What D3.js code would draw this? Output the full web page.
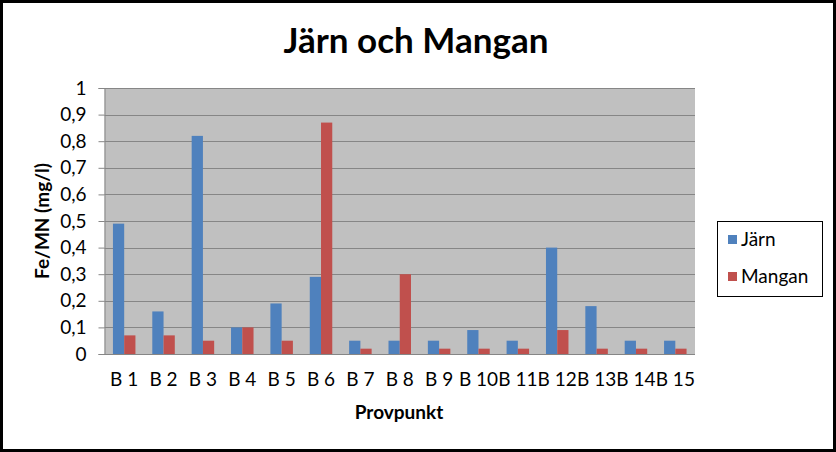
<!DOCTYPE html>
<html><head><meta charset="utf-8">
<script src="https://cdn.jsdelivr.net/npm/d3@7"></script>
<style>body{margin:0;background:#fff}svg{display:block}text{font-family:Lato,"Open Sans",sans-serif}</style>
</head><body><svg id="c" width="836" height="452"></svg>
<script>
const categories = ["B 1","B 2","B 3","B 4","B 5","B 6","B 7","B 8","B 9","B 10","B 11","B 12","B 13","B 14","B 15"];
const jarn   = [0.49,0.16,0.82,0.10,0.19,0.29,0.05,0.05,0.05,0.09,0.05,0.40,0.18,0.05,0.05];
const mangan = [0.07,0.07,0.05,0.10,0.05,0.87,0.02,0.30,0.02,0.02,0.02,0.09,0.02,0.02,0.02];
const seriesNames = ["Järn","Mangan"];
const colors = ["#4F81BD","#C0504D"];
const yTicks = [0,0.1,0.2,0.3,0.4,0.5,0.6,0.7,0.8,0.9,1];

const svg = d3.select("#c");
svg.append("rect").attr("x",1.5).attr("y",1.5).attr("width",833).attr("height",449)
  .attr("fill","#fff").attr("stroke","#000").attr("stroke-width",3);

const L=104.5,R=695,T=88,B=354;
const x = d3.scaleBand().domain(categories).range([L,R]).paddingInner(0).paddingOuter(0);
const y = d3.scaleLinear().domain([0,1]).range([B,T]);
const inner = d3.scaleBand().domain(seriesNames).range([0,x.bandwidth()*2/3.5]);
const off = x.bandwidth()*0.75/3.5;

svg.append("rect").attr("x",L).attr("y",T).attr("width",R-L).attr("height",B-T).attr("fill","#C0C0C0");
svg.append("g").selectAll("line").data(yTicks.slice(1)).join("line")
  .attr("x1",L).attr("x2",R).attr("y1",d=>Math.round(y(d))+0.5).attr("y2",d=>Math.round(y(d))+0.5)
  .attr("stroke","#868686").attr("stroke-width",1.2);

const data=[jarn,mangan];
data.forEach((vals,si)=>{
  svg.append("g").selectAll("rect").data(vals).join("rect")
    .attr("x",(d,i)=>x(categories[i])+off+inner(seriesNames[si]))
    .attr("width",inner.bandwidth())
    .attr("y",d=>y(d)).attr("height",d=>B-y(d)).attr("fill",colors[si]);
});

const yAxis = d3.axisLeft(y).tickValues(yTicks).tickSize(6).tickPadding(12)
  .tickFormat(d=>d===0?"0":d===1?"1":d3.format(".1f")(d).replace(".",","));
const gy = svg.append("g").attr("transform",`translate(${L},0)`).call(yAxis);
gy.select(".domain").attr("stroke","#868686");
gy.selectAll(".tick line").attr("stroke","#868686");
gy.selectAll("text").attr("font-size",19).attr("fill","#000");

const xAxis = d3.axisBottom(x).tickSize(0).tickPadding(19);
const gx = svg.append("g").attr("transform",`translate(0,${B})`).call(xAxis);
gx.select(".domain").attr("stroke","#868686").attr("d",`M${L},0.5H${R}`);
gx.selectAll("text").attr("font-size",19).attr("fill","#000");

svg.append("text").attr("x",416).attr("y",53).attr("text-anchor","middle")
  .attr("font-size",35).attr("font-weight","bold").text("Järn och Mangan");
svg.append("text").attr("x",399).attr("y",419).attr("text-anchor","middle")
  .attr("font-size",19).attr("font-weight","bold").text("Provpunkt");
svg.append("text").attr("transform","translate(49,221) rotate(-90)").attr("text-anchor","middle")
  .attr("font-size",19).attr("font-weight","bold").text("Fe/MN (mg/l)");

const lg = svg.append("g");
lg.append("rect").attr("x",717.5).attr("y",221.5).attr("width",105).attr("height",75)
  .attr("fill","#fff").attr("stroke","#000").attr("stroke-width",1);
seriesNames.forEach((n,i)=>{
  const yy = 240+i*37;
  lg.append("rect").attr("x",728).attr("y",yy-5).attr("width",9).attr("height",9).attr("fill",colors[i]);
  lg.append("text").attr("x",741).attr("y",yy+6).attr("font-size",19).text(n);
});
</script></body></html>
